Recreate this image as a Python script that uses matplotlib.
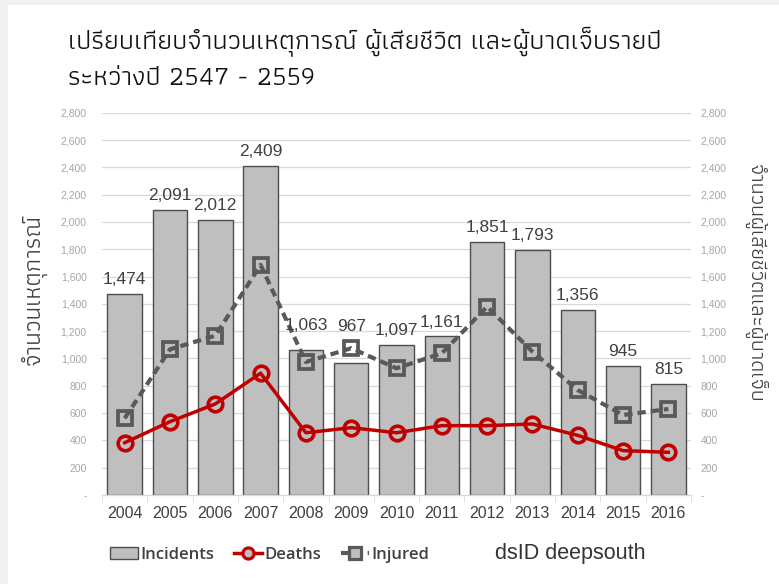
import matplotlib
matplotlib.use('Agg')
import matplotlib.pyplot as plt
from matplotlib.patches import Patch, Rectangle
from matplotlib.lines import Line2D
from matplotlib.ticker import FuncFormatter, MultipleLocator

# data
years = ['2004', '2005', '2006', '2007', '2008', '2009', '2010',
         '2011', '2012', '2013', '2014', '2015', '2016']
incidents = [1474, 2091, 2012, 2409, 1063, 967, 1097, 1161, 1851, 1793, 1356, 945, 815]
deaths = [383, 537, 667, 892, 456, 493, 456, 508, 508, 520, 437, 325, 313]
injured = [562, 1067, 1167, 1685, 974, 1075, 928, 1038, 1379, 1050, 769, 586, 630]

title_1 = 'เปรียบเทียบจำนวนเหตุการณ์ ผู้เสียชีวิต และผู้บาดเจ็บรายปี'
title_2 = 'ระหว่างปี 2547 - 2559'
ylabel_left = 'จำนวนเหตุการณ์'
ylabel_right = 'จำนวนผู้เสียชีวิตและผู้บาดเจ็บ'

# a few labels were pushed up off the lines in the original (points)
label_lift = {'2008': 7, '2009': 16}

thai = ['Athiti', 'Noto Sans Thai', 'DejaVu Sans']
num_font = ['Liberation Sans', 'DejaVu Sans']

fig = plt.figure(figsize=(7.79, 5.84), dpi=100)
ax = fig.add_axes([0.131, 0.1524, 0.756, 0.6546])
ax2 = ax.twinx()

x = list(range(len(years)))

# bars
ax.bar(x, incidents, width=0.76, color='#bfbfbf', edgecolor='#4d4d4d',
       linewidth=1.0, zorder=2)

# lines on the second axis
ax2.plot(x, injured, color='#595959', lw=3, dashes=(2, 1.2),
         marker='s', markersize=10, markerfacecolor='none',
         markeredgewidth=2.7, zorder=3)
ax2.plot(x, deaths, color='#c00000', lw=2.5,
         marker='o', markersize=10.5, markerfacecolor='none',
         markeredgewidth=2.6, zorder=4)

for xi, yr, v in zip(x, years, incidents):
    ax2.annotate('{:,}'.format(v), (xi, v), xytext=(0, 5 + label_lift.get(yr, 0)),
                 textcoords='offset points', ha='center', va='bottom',
                 fontsize=12.5, color='#404040', family=num_font, zorder=6)

fmt = FuncFormatter(lambda v, p: '-' if v == 0 else '{:,.0f}'.format(v))
for a in (ax, ax2):
    a.set_ylim(0, 2800)
    a.set_xlim(-0.5, len(years) - 0.5)
    a.yaxis.set_major_locator(MultipleLocator(200))
    a.yaxis.set_major_formatter(fmt)
    for s in a.spines.values():
        s.set_visible(False)
    a.spines['bottom'].set_visible(True)
    a.spines['bottom'].set_color('#d9d9d9')
    for lab in a.get_yticklabels():
        lab.set_family(num_font)

ax.set_zorder(1)
ax.patch.set_visible(False)
ax2.set_zorder(2)

ax.yaxis.grid(True, color='#d9d9d9', lw=0.9, zorder=0)
ax.set_axisbelow(True)

ax.tick_params(axis='y', length=0, pad=11, labelsize=7.5, labelcolor='#a6a6a6')
ax2.tick_params(axis='y', length=0, pad=7, labelsize=7.5, labelcolor='#a6a6a6')

ax.set_xticks(x)
ax.set_xticklabels(years, family=num_font)
ax.set_xticks([i - 0.5 for i in range(len(years) + 1)], minor=True)
ax.tick_params(axis='x', which='major', length=0, pad=8, labelsize=11.5, labelcolor='#404040')
ax.tick_params(axis='x', which='minor', length=5, color='#d9d9d9')
ax2.tick_params(axis='x', length=0, labelbottom=False)

# axis titles
fig.text(0.043, 0.505, ylabel_left, rotation=90, ha='center', va='center',
         fontsize=17.5, color='#404040', family=thai)
fig.text(0.968, 0.515, ylabel_right, rotation=270, ha='center', va='center',
         fontsize=15.5, color='#404040', family=thai)

# title
fig.text(0.087, 0.93, title_1, ha='left', va='center', fontsize=19.7,
         color='#111111', family=thai)
fig.text(0.087, 0.865, title_2, ha='left', va='center', fontsize=19.7,
         color='#111111', family=thai)

# legend
handles = [
    Patch(facecolor='#bfbfbf', edgecolor='#4d4d4d', linewidth=1.0),
    Line2D([], [], color='#c00000', lw=2.5, marker='o', markersize=8,
           markerfacecolor='#bfbfbf', markeredgewidth=2.3),
    Line2D([], [], color='#595959', lw=3, dashes=(2, 1.2), marker='s',
           markersize=8.5, markerfacecolor='#bfbfbf', markeredgewidth=2.3),
]
fig.legend(handles, ['Incidents', 'Deaths', 'Injured'], loc='center left',
           bbox_to_anchor=(0.122, 0.05), ncol=3, frameon=False,
           handlelength=1.7, handletextpad=0.15, columnspacing=1.15,
           prop={'family': ['Open Sans', 'DejaVu Sans'], 'weight': 'semibold', 'size': 12},
           labelcolor='#404040')

# source mark
fig.text(0.635, 0.052, 'dsID deepsouth', ha='left', va='center', fontsize=15.5,
         color='#333333', family=num_font)

# light frame at the edge of the picture
fig.patches.append(Rectangle((0, 0), 0.0105, 1, transform=fig.transFigure,
                             facecolor='#f0f0f0', edgecolor='none', zorder=-1))
fig.patches.append(Rectangle((0, 0.991), 1, 0.009, transform=fig.transFigure,
                             facecolor='#f0f0f0', edgecolor='none', zorder=-1))

fig.savefig('out.png', dpi=100)
